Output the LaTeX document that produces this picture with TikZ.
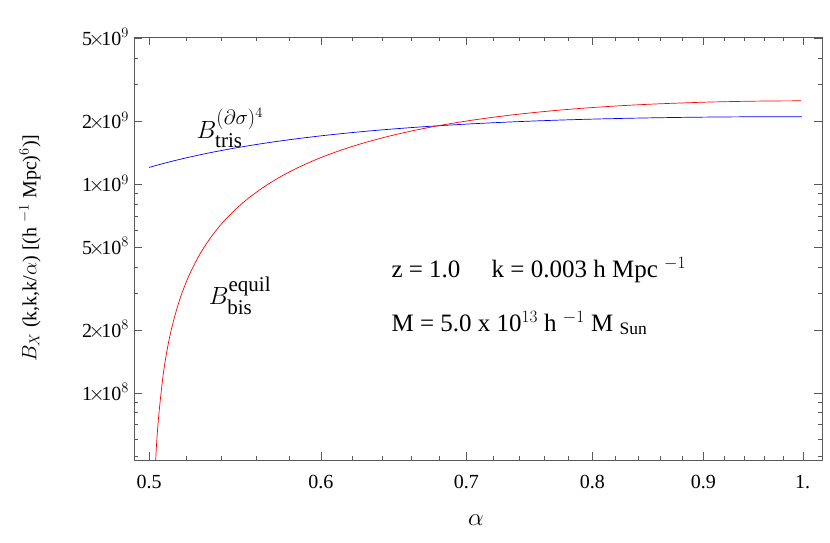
\documentclass[tikz,border=0pt]{standalone}
\usepackage{amsmath}
\usepackage{fontspec}
\setmainfont{Liberation Serif}
\usetikzlibrary{positioning}
% pixel map: alpha -> x, B (in 10^9) -> y
\newcommand{\ax}[1]{149+2172*log10((#1)/0.5)}
\newcommand{\by}[1]{184-209*log10(#1)}
\tikzset{
    ticklabel/.style={font=\fontsize{20}{20}\selectfont, inner sep=1pt},
    biglabel/.style={font=\fontsize{25}{28}\selectfont, anchor=west},
}
\begin{document}
\begin{tikzpicture}[x=1pt,y=-1pt]
\useasboundingbox (0,0) rectangle (830,543);
\draw[gray!70!black, line width=0.5pt] (134,37) rectangle (822,460);
% x ticks
\foreach \a in {0.5,0.52,...,1.001}
    \draw[gray!70!black] ({\ax{\a}},460) -- ++(0,-4) ({\ax{\a}},37) -- ++(0,4);
\foreach \a/\t in {0.5/0.5,0.6/0.6,0.7/0.7,0.8/0.8,0.9/0.9,1.0/1.}{
    \draw[gray!70!black] ({\ax{\a}},460) -- ++(0,-8) ({\ax{\a}},37) -- ++(0,8);
    \node[ticklabel] (xt\t) at ({\ax{\a}},482) {\t};
}
% y ticks
\foreach \m in {0.05,0.06,...,0.095,0.1,0.2,...,0.95,1,2,3,4,5}
    \draw[gray!70!black] (134,{\by{\m}}) -- ++(4,0) (822,{\by{\m}}) -- ++(-4,0);
\foreach \m/\t/\e in {0.1/1/8,0.2/2/8,0.5/5/8,1/1/9,2/2/9,5/5/9}{
    \draw[gray!70!black] (134,{\by{\m}}) -- ++(8,0) (822,{\by{\m}}) -- ++(-8,0);
    \node[ticklabel, anchor=east] (yt\t\e) at (130,{\by{\m}}) {\t$\!\times\!$10$^{\e}$};
}
% curves
\begin{scope}
\clip (134,37) rectangle (822,460);
\draw[blue, line width=0.7pt, smooth, samples=80, domain=0.5:1]
    plot ({\ax{\x}},{\by{2.1-0.9*(1/\x-1)^2}});
\draw[red, line width=0.7pt, smooth, samples=150, domain=0.5005:1]
    plot ({\ax{\x}},{\by{max(0.01,2.5*(1-((1/\x-1)/0.996)^1.91))}});
\end{scope}
% labels
\node[font=\fontsize{24}{24}\selectfont] (xlab) at (476,520) {$\alpha$};
\node[rotate=90, font=\fontsize{20}{20}\selectfont, inner sep=1pt] (ylab) at (30,248)
    {$B_X$ (k,k,k/$\alpha$) [(h $^{-1}$ Mpc)$^6$)]};
\node[font=\fontsize{30}{32}\selectfont] (tris) at (230,128) {$B_{\text{tris}}^{(\partial\sigma)^4}$};
\node[font=\fontsize{30}{32}\selectfont] (bis) at (240,296) {$B_{\text{bis}}^{\text{equil}}$};
\node[biglabel] (zk) at (388,270) {z = 1.0\quad\ k = 0.003 h Mpc $^{-1}$};
\node[biglabel] (mass) at (388,323) {M = 5.0 x 10$^{13}$ h $^{-1}$ M $_{\text{Sun}}$};
\end{tikzpicture}
\end{document}
